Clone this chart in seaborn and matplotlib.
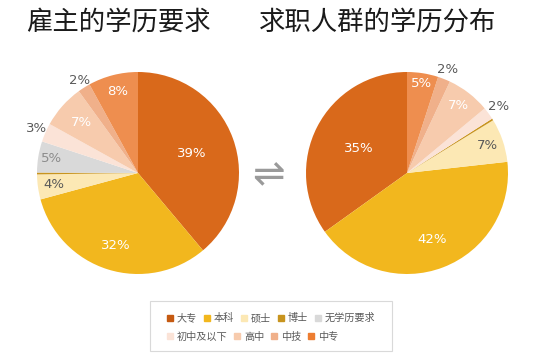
import numpy as np
import seaborn as sns
import matplotlib.pyplot as plt
from matplotlib.lines import Line2D
from matplotlib.patches import Rectangle

# -------------------------
# Data
# -------------------------
categories = ["大专", "本科", "硕士", "博士", "无学历要求", "初中及以下", "高中", "中技", "中专"]
employer_pct = [39, 32, 4, 0.3, 5, 3, 7, 2, 8]      # 雇主的学历要求
seeker_pct = [35, 42, 7, 0.3, 0, 2, 7, 2, 5]        # 求职人群的学历分布
titles = ["雇主的学历要求", "求职人群的学历分布"]

# -------------------------
# Style
# -------------------------
colors = ["#D9691B", "#F2B71E", "#FCE8B4", "#C8941E", "#D9D9D9",
          "#FBE3D7", "#F7CBAD", "#F0B08A", "#EE8E4F"]
legend_colors = ["#C55A11", "#F2B71E", "#FCE8B4", "#C8941E", "#D9D9D9",
                 "#FBE3D7", "#F7CBAD", "#F0B08A", "#ED7D31"]
W, G, D = "white", "#8C8C8C", "#595959"
left_dist = [0.57, 0.75, 0.84, 0, 0.87, 1.10, 0.75, 1.08, 0.83]
left_txt = [W, W, D, W, G, D, W, D, W]
right_dist = [0.54, 0.70, 0.84, 0, 0, 1.12, 0.84, 1.10, 0.90]
right_txt = [W, W, D, W, W, D, W, D, W]

sns.set_theme(style="white")
plt.rcParams["font.family"] = ["Noto Sans CJK SC", "DejaVu Sans"]

fig = plt.figure(figsize=(5.54, 3.63), dpi=100)
FW, FH = 554, 363
R = 101  # pie radius in px
side = 2.5 * R


def pie_axes(cx, cy):
    return fig.add_axes([(cx - side / 2) / FW, (FH - cy - side / 2) / FH, side / FW, side / FH])


def draw_pie(ax, values, counterclock, dist, tcolors):
    wedges, _ = ax.pie(values, colors=colors, startangle=90, counterclock=counterclock,
                       wedgeprops={"linewidth": 0})
    ax.set_xlim(-1.25, 1.25)
    ax.set_ylim(-1.25, 1.25)
    for w, v, d, c in zip(wedges, values, dist, tcolors):
        if v < 1:
            continue
        ang = np.deg2rad((w.theta1 + w.theta2) / 2)
        ax.text(d * np.cos(ang), d * np.sin(ang), f"{v:.0f}%", ha="center", va="center",
                fontsize=9.5, color=c, family="DejaVu Sans")


ax1 = pie_axes(138, 173)
draw_pie(ax1, employer_pct, False, left_dist, left_txt)
ax2 = pie_axes(407, 173)
draw_pie(ax2, seeker_pct, True, right_dist, right_txt)

# Titles
fig.text(118 / FW, 1 - 22 / FH, titles[0], ha="center", va="center", fontsize=19, color="#1a1a1a")
fig.text(378 / FW, 1 - 22 / FH, titles[1], ha="center", va="center", fontsize=19, color="#1a1a1a")

# Arrow between the pies
fig.text(268 / FW, 1 - 175 / FH, "⇌", ha="center", va="center", fontsize=28,
         color="#9A9A9A", family="DejaVu Sans")

# Legend (two rows, like the original)
handles = [Line2D([], [], marker="s", linestyle="", markersize=4.5, color=c) for c in legend_colors]
rows = [range(0, 5), range(5, 9)]
for row, y in zip(rows, [318, 337]):
    fig.legend([handles[i] for i in row], [categories[i] for i in row],
               loc="center left", bbox_to_anchor=(162 / FW, 1 - y / FH),
               ncol=len(row), frameon=False, fontsize=7.3, handlelength=0.6,
               handletextpad=0.35, columnspacing=0.7, borderpad=0, labelcolor="#595959")
fig.add_artist(Rectangle((150 / FW, 1 - 351 / FH), 242 / FW, 50 / FH, transform=fig.transFigure,
                         facecolor="none", edgecolor="#D9D9D9", linewidth=0.8))

plt.savefig("out.png", dpi=100)
